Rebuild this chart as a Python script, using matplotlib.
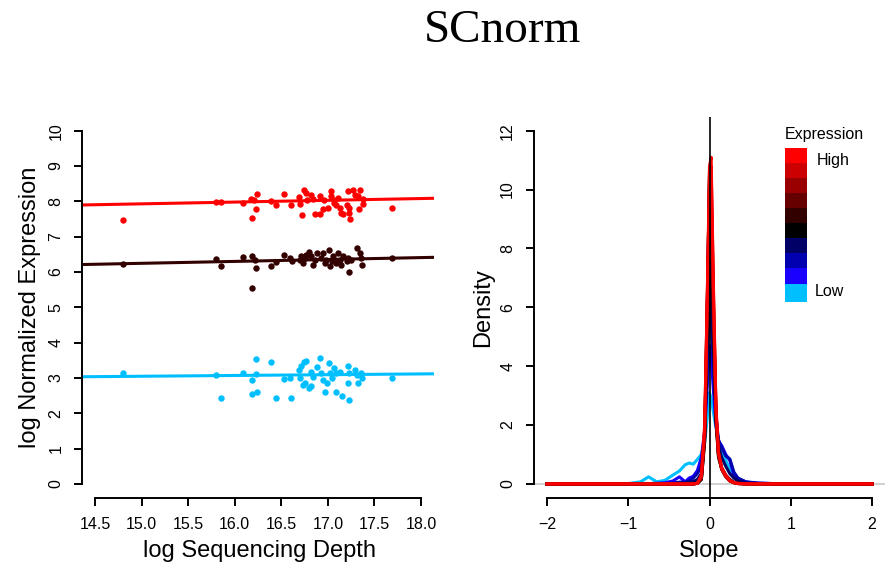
import numpy as np
import matplotlib.pyplot as plt
from matplotlib.colors import ListedColormap

plt.rcParams['font.family'] = ['Liberation Sans', 'DejaVu Sans']

# expression groups, low -> high
group_colors = ["#00BFFF", "#1A00FF", "#0000B0", "#000066", "#000000",
                "#330000", "#660000", "#990000", "#CC0000", "#FF0000"]

# left panel: three example genes (high, mid, low)
red_x = [14.80, 15.80, 15.85, 16.09, 16.17, 16.18, 16.23, 16.24, 16.21, 16.39, 16.44, 16.53,
         16.60, 16.69, 16.70, 16.72, 16.74, 16.76, 16.78, 16.82, 16.84, 16.86, 16.92, 16.92,
         16.96, 16.95, 17.00, 17.03, 17.03, 17.07, 17.07, 17.09, 17.11, 17.13, 17.14, 17.16,
         17.21, 17.23, 17.22, 17.24, 17.23, 17.27, 17.29, 17.32, 17.35, 17.33, 17.38, 17.38, 17.69]
red_y = [7.46, 7.98, 7.98, 7.94, 8.07, 7.53, 7.79, 8.22, 8.05, 8.02, 7.90, 8.21,
         7.91, 8.12, 7.92, 7.61, 8.33, 8.25, 8.03, 8.19, 8.06, 7.63, 7.63, 8.15,
         8.05, 7.78, 7.81, 8.30, 8.14, 7.95, 8.05, 7.90, 8.09, 7.81, 7.67, 7.65,
         7.90, 7.67, 8.28, 7.50, 7.81, 8.33, 8.19, 8.16, 8.33, 7.78, 8.07, 7.92, 7.80]

dark_x = [14.80, 15.80, 15.85, 16.09, 16.18, 16.23, 16.22, 16.18, 16.39, 16.44, 16.53, 16.59,
          16.61, 16.70, 16.71, 16.73, 16.75, 16.77, 16.80, 16.82, 16.84, 16.86, 16.88, 16.93,
          16.95, 16.97, 16.98, 17.01, 17.02, 17.04, 17.05, 17.09, 17.11, 17.13, 17.14, 17.16,
          17.20, 17.22, 17.23, 17.25, 17.31, 17.34, 17.36, 17.37, 17.69]
dark_y = [6.24, 6.37, 6.17, 6.42, 6.44, 6.11, 6.35, 5.56, 6.17, 6.28, 6.48, 6.39,
          6.30, 6.35, 6.44, 6.25, 6.39, 6.49, 6.58, 6.44, 6.20, 6.35, 6.54, 6.39,
          6.54, 6.25, 6.35, 6.61, 6.16, 6.30, 6.44, 6.25, 6.54, 6.35, 6.20, 6.44,
          6.30, 6.39, 6.01, 6.35, 6.68, 6.54, 6.39, 6.20, 6.39]

blue_x = [14.80, 15.80, 15.85, 16.09, 16.18, 16.23, 16.23, 16.18, 16.24, 16.39, 16.44, 16.53,
          16.59, 16.60, 16.69, 16.71, 16.74, 16.77, 16.70, 16.73, 16.75, 16.80, 16.82, 16.82,
          16.84, 16.88, 16.92, 16.93, 16.95, 16.97, 16.99, 17.01, 17.02, 17.04, 17.07, 17.09,
          17.09, 17.13, 17.15, 17.22, 17.22, 17.23, 17.23, 17.29, 17.31, 17.32, 17.36, 17.37, 17.69]
blue_y = [3.14, 3.07, 2.44, 3.14, 2.95, 3.53, 3.11, 2.54, 2.61, 3.45, 2.44, 2.97,
          2.99, 2.42, 3.23, 3.35, 3.45, 3.48, 2.99, 2.80, 2.87, 2.71, 2.76, 3.18,
          3.04, 3.32, 3.56, 3.14, 2.95, 2.61, 2.85, 3.42, 3.14, 2.99, 3.28, 3.14,
          2.61, 3.18, 2.50, 3.34, 2.85, 2.38, 3.14, 3.23, 3.09, 2.85, 3.14, 2.99, 2.99]

# fitted lines: value at depth 16 and slope (red, dark, blue)
fit_at16 = [7.98, 6.30, 3.07]
fit_slope = [0.05, 0.054, 0.022]

# right panel: slope densities per expression group
slope_x = [-2.0, -1.0, -0.85, -0.75, -0.65, -0.55, -0.45, -0.37, -0.3, -0.25, -0.2,
           -0.15, -0.1, -0.06, -0.03, 0.0, 0.02, 0.05, 0.08, 0.11, 0.15, 0.2, 0.25, 0.3, 0.35,
           0.45, 0.6, 0.8, 1.0, 2.0]
dens = [
    [0, 0.01, 0.07, 0.24, 0.07, 0.12, 0.3, 0.44, 0.65, 0.71, 0.67,
     0.83, 1.0, 1.4, 2.2, 3.1, 2.9, 2.4, 1.9, 1.5, 1.1, 0.8, 0.5, 0.3, 0.15,
     0.06, 0.02, 0.01, 0, 0],
    [0, 0, 0, 0.01, 0.02, 0.04, 0.1, 0.24, 0.07, 0.2, 0.26,
     0.45, 0.9, 1.8, 3.2, 4.7, 4.3, 3.1, 2.0, 1.45, 1.3, 1.0, 0.8, 0.3, 0.18,
     0.07, 0.03, 0.01, 0, 0],
    [0, 0, 0, 0, 0, 0.01, 0.03, 0.06, 0.06, 0.1, 0.2,
     0.35, 0.6, 1.6, 3.8, 6.2, 5.6, 3.9, 2.3, 1.5, 1.25, 0.95, 0.85, 0.4, 0.2,
     0.06, 0.02, 0.01, 0, 0],
    [0, 0, 0, 0, 0, 0, 0.01, 0.02, 0.03, 0.05, 0.08,
     0.15, 0.35, 1.6, 4.6, 7.6, 6.9, 4.4, 2.3, 1.3, 0.9, 0.6, 0.35, 0.2, 0.1,
     0.03, 0.01, 0, 0, 0],
    [0] * 11 + [0.02, 0.15, 1.5, 5.5, 10.7, 9.6, 5.5, 2.2, 1.0, 0.55, 0.3, 0.15, 0.06, 0.02] + [0.01, 0, 0, 0, 0],
    [0] * 11 + [0.02, 0.15, 1.4, 5.2, 9.8, 9.3, 5.3, 2.1, 0.9, 0.5, 0.25, 0.12, 0.05, 0.02] + [0] * 5,
    [0] * 11 + [0.02, 0.2, 1.6, 5.6, 10.2, 9.9, 5.8, 2.3, 1.0, 0.5, 0.25, 0.1, 0.04, 0.01] + [0] * 5,
    [0] * 11 + [0.02, 0.2, 1.7, 5.8, 10.5, 10.3, 6.0, 2.4, 1.0, 0.5, 0.25, 0.1, 0.04, 0.01] + [0] * 5,
    [0] * 11 + [0.02, 0.25, 1.8, 6.0, 10.4, 10.8, 6.3, 2.5, 1.05, 0.5, 0.25, 0.1, 0.04, 0.01] + [0] * 5,
    [0] * 11 + [0.02, 0.3, 2.0, 6.0, 10.8, 11.1, 6.5, 2.6, 1.1, 0.55, 0.3, 0.12, 0.05, 0.02] + [0] * 5,
]

fig = plt.figure(figsize=(8.86, 5.68), dpi=100)
ax1 = fig.add_axes([0.0926, 0.1232, 0.3973, 0.6715])
ax2 = fig.add_axes([0.6027, 0.1232, 0.3962, 0.6715])


def r_style(ax):
    for s in ['top', 'right']:
        ax.spines[s].set_visible(False)
    for s in ['left', 'bottom']:
        ax.spines[s].set_linewidth(1.4)
    ax.tick_params(direction='out', length=5.5, width=1.4, labelsize=11.5, pad=8)
    ax.tick_params(axis='y', labelrotation=90)
    for lbl in ax.get_yticklabels():
        lbl.set_va('center')


# left panel
pts = [(red_x, red_y, group_colors[9]), (dark_x, dark_y, group_colors[5]),
       (blue_x, blue_y, group_colors[0])]
for (xv, yv, c), b, m in zip(pts, fit_at16, fit_slope):
    ax1.plot(xv, yv, 'o', color=c, markersize=4.6, markeredgewidth=0)
    ax1.axline((16, b), slope=m, color=c, lw=2.2)
ax1.set_xlim(14.36, 18.14)
ax1.set_ylim(-0.4, 10.4)
ax1.set_xticks(np.arange(14.5, 18.01, 0.5))
ax1.set_xticklabels([f"{v:.1f}" for v in np.arange(14.5, 18.01, 0.5)])
ax1.set_yticks(range(0, 11))
ax1.spines['left'].set_bounds(0, 10)
ax1.spines['bottom'].set_bounds(14.5, 18)
r_style(ax1)
ax1.set_xlabel("log Sequencing Depth", fontsize=17)
ax1.set_ylabel("log Normalized Expression", fontsize=17, va='center')
ax1.xaxis.set_label_coords(0.505, -0.11)
ax1.yaxis.set_label_coords(-0.148, 0.5)

# right panel
ax2.axhline(0, color='#c8c8c8', lw=1.2, zorder=1)
for c, d in zip(group_colors, dens):
    ax2.plot(slope_x, d, color=c, lw=2.2, zorder=2)
ax2.axvline(0, color='black', lw=1.2, zorder=3)
ax2.set_xlim(-2.16, 2.16)
ax2.set_ylim(-0.48, 12.48)
ax2.set_xticks([-2, -1, 0, 1, 2])
ax2.set_yticks(range(0, 13, 2))
ax2.spines['left'].set_bounds(0, 12)
ax2.spines['bottom'].set_bounds(-2, 2)
r_style(ax2)
ax2.set_xlabel("Slope", fontsize=17)
ax2.set_ylabel("Density", fontsize=17, va='center')
ax2.xaxis.set_label_coords(0.5, -0.11)
ax2.yaxis.set_label_coords(-0.145, 0.5)

# colour legend
band_edges = [0, 19, 34.5, 50, 65.5, 81, 96.5, 112, 127.5, 143, 158.5]
lax = fig.add_axes([785 / 886, 1 - 302 / 568, 22 / 886, 154 / 568])
lax.pcolormesh([0, 1], band_edges, np.arange(10).reshape(-1, 1),
               cmap=ListedColormap(group_colors), vmin=-0.5, vmax=9.5)
lax.set_ylim(0, 158.5)
lax.axis('off')
fig.text(824 / 886, 1 - 134 / 568, "Expression", ha='center', va='center', fontsize=11.5)
fig.text(817 / 886, 1 - 161 / 568, "High", ha='left', va='center', fontsize=11.5)
fig.text(815 / 886, 1 - 292 / 568, "Low", ha='left', va='center', fontsize=11.5)

fig.text(503 / 886, 1 - 31 / 568, "SCnorm", ha='center', va='center', fontsize=34,
         family='Liberation Serif')

fig.savefig("out.png", dpi=100)
